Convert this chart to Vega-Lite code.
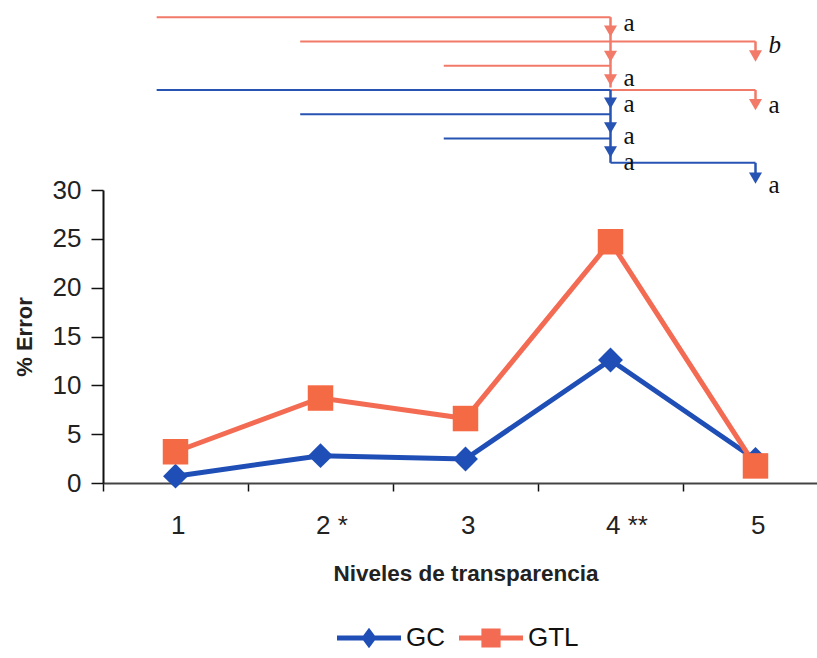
{
  "$schema": "https://vega.github.io/schema/vega-lite/v6.json",
  "background": "white",
  "padding": {"left": 13, "top": 5, "right": 0, "bottom": 0},
  "bounds": "flush",
  "spacing": 0,
  "config": {"view": {"stroke": null}, "font": "Liberation Sans"},
  "datasets": {
    "errores": [
      {"nivel": "1", "serie": "GC", "error": 0.7},
      {"nivel": "2", "serie": "GC", "error": 2.8},
      {"nivel": "3", "serie": "GC", "error": 2.45},
      {"nivel": "4", "serie": "GC", "error": 12.6},
      {"nivel": "5", "serie": "GC", "error": 2.4},
      {"nivel": "1", "serie": "GTL", "error": 3.2},
      {"nivel": "2", "serie": "GTL", "error": 8.7},
      {"nivel": "3", "serie": "GTL", "error": 6.6},
      {"nivel": "4", "serie": "GTL", "error": 24.7},
      {"nivel": "5", "serie": "GTL", "error": 1.75}
    ],
    "lineas": [
      {"serie": "GTL", "desde": 0.87, "hasta": 4, "fila": 1},
      {"serie": "GTL", "desde": 1.86, "hasta": 5, "fila": 2},
      {"serie": "GTL", "desde": 2.85, "hasta": 4, "fila": 3},
      {"serie": "GTL", "desde": 4, "hasta": 5, "fila": 4},
      {"serie": "GC", "desde": 0.87, "hasta": 4, "fila": 4},
      {"serie": "GC", "desde": 1.86, "hasta": 4, "fila": 5},
      {"serie": "GC", "desde": 2.85, "hasta": 4, "fila": 6},
      {"serie": "GC", "desde": 4, "hasta": 5, "fila": 7}
    ],
    "tallos": [
      {"serie": "GTL", "nivel": 4, "fila": 1, "fila2": 3.9},
      {"serie": "GTL", "nivel": 5, "fila": 2, "fila2": 2.6},
      {"serie": "GTL", "nivel": 5, "fila": 4, "fila2": 4.6},
      {"serie": "GC", "nivel": 4, "fila": 4, "fila2": 7},
      {"serie": "GC", "nivel": 5, "fila": 7, "fila2": 7.6}
    ],
    "flechas": [
      {"serie": "GTL", "nivel": 4, "fila": 1.58},
      {"serie": "GTL", "nivel": 4, "fila": 2.62},
      {"serie": "GTL", "nivel": 4, "fila": 3.58},
      {"serie": "GTL", "nivel": 5, "fila": 2.6},
      {"serie": "GTL", "nivel": 5, "fila": 4.6},
      {"serie": "GC", "nivel": 4, "fila": 4.54},
      {"serie": "GC", "nivel": 4, "fila": 5.56},
      {"serie": "GC", "nivel": 4, "fila": 6.55},
      {"serie": "GC", "nivel": 5, "fila": 7.63}
    ],
    "letras": [
      {"nivel": 4, "fila": 1.25, "letra": "a"},
      {"nivel": 4, "fila": 3.5, "letra": "a"},
      {"nivel": 4, "fila": 4.58, "letra": "a"},
      {"nivel": 4, "fila": 5.9, "letra": "a"},
      {"nivel": 4, "fila": 6.97, "letra": "a"},
      {"nivel": 5, "fila": 2.15, "letra": "b"},
      {"nivel": 5, "fila": 4.6, "letra": "a"},
      {"nivel": 5, "fila": 7.91, "letra": "a"}
    ]
  },
  "vconcat": [
    {
      "width": 725,
      "height": 185,
      "encoding": {
        "x": {"type": "quantitative", "scale": {"domain": [0.5, 5.5], "nice": false, "zero": false}, "axis": null},
        "y": {"type": "quantitative", "scale": {"domain": [0.5, 8.12], "reverse": true, "nice": false, "zero": false}, "axis": null}
      },
      "layer": [
        {
          "data": {"name": "lineas"},
          "mark": {"type": "rule", "strokeWidth": 2},
          "encoding": {
            "x": {"field": "desde", "type": "quantitative"},
            "x2": {"field": "hasta"},
            "y": {"field": "fila", "type": "quantitative"},
            "color": {"field": "serie", "type": "nominal", "scale": {"domain": ["GC", "GTL"], "range": ["#2753b3", "#f27a68"]}, "legend": null}
          }
        },
        {
          "data": {"name": "tallos"},
          "mark": {"type": "rule", "strokeWidth": 2.5},
          "encoding": {
            "x": {"field": "nivel", "type": "quantitative"},
            "y": {"field": "fila", "type": "quantitative"},
            "y2": {"field": "fila2"},
            "color": {"field": "serie", "type": "nominal", "legend": null}
          }
        },
        {
          "data": {"name": "flechas"},
          "mark": {"type": "point", "shape": "triangle-down", "filled": true, "size": 170, "opacity": 1},
          "encoding": {
            "x": {"field": "nivel", "type": "quantitative"},
            "y": {"field": "fila", "type": "quantitative"},
            "color": {"field": "serie", "type": "nominal", "legend": null}
          }
        },
        {
          "data": {"name": "letras"},
          "transform": [{"filter": "datum.letra == 'a'"}],
          "mark": {"type": "text", "align": "left", "baseline": "middle", "dx": 13, "font": "Liberation Serif", "fontSize": 25, "color": "#111"},
          "encoding": {
            "x": {"field": "nivel", "type": "quantitative"},
            "y": {"field": "fila", "type": "quantitative"},
            "text": {"field": "letra"}
          }
        },
        {
          "data": {"name": "letras"},
          "transform": [{"filter": "datum.letra == 'b'"}],
          "mark": {"type": "text", "align": "left", "baseline": "middle", "dx": 13, "font": "Liberation Serif", "fontStyle": "italic", "fontSize": 25, "color": "#111"},
          "encoding": {
            "x": {"field": "nivel", "type": "quantitative"},
            "y": {"field": "fila", "type": "quantitative"},
            "text": {"field": "letra"}
          }
        }
      ]
    },
    {
      "width": 725,
      "height": 293,
      "data": {"name": "errores"},
      "encoding": {
        "x": {
          "field": "nivel", "type": "ordinal",
          "scale": {"type": "band", "paddingInner": 0, "paddingOuter": 0},
          "title": "Niveles de transparencia",
          "axis": {
            "tickBand": "extent", "labelAngle": 0, "tickSize": 8, "tickWidth": 1.5, "tickColor": "#111",
            "domainColor": "#444", "domainWidth": 2,
            "labelFont": "Liberation Sans", "labelFontSize": 26, "labelColor": "#222",
            "labelAlign": "left", "labelOffset": -5, "labelPadding": 21, "labelOverlap": false, "labelBound": false, "labelFlush": false,
            "labelExpr": "datum.value == '2' ? '2  *' : datum.value == '4' ? '4  **' : datum.value",
            "titleFont": "Liberation Sans", "titleFontSize": 22.5, "titleFontWeight": "bold", "titleColor": "#222", "titlePadding": 24
          }
        },
        "y": {
          "field": "error", "type": "quantitative",
          "scale": {"domain": [0, 30], "nice": false},
          "title": "% Error",
          "axis": {
            "values": [0, 5, 10, 15, 20, 25, 30], "grid": false, "tickSize": 12, "tickWidth": 1.5, "tickColor": "#111",
            "domainColor": "#111", "domainWidth": 2,
            "labelFont": "Liberation Sans", "labelFontSize": 26, "labelColor": "#222", "labelPadding": 10,
            "titleFont": "Liberation Sans", "titleFontSize": 22, "titleFontWeight": "bold", "titleColor": "#222", "titlePadding": 16
          }
        }
      },
      "layer": [
        {
          "mark": {"type": "line", "strokeWidth": 5},
          "encoding": {
            "color": {"field": "serie", "type": "nominal", "scale": {"domain": ["GC", "GTL"], "range": ["#1f4fb6", "#f36b52"]}, "legend": null}
          }
        },
        {
          "transform": [{"filter": "datum.serie == 'GC'"}],
          "mark": {"type": "point", "shape": "diamond", "filled": true, "size": 620, "opacity": 1},
          "encoding": {"color": {"field": "serie", "type": "nominal", "legend": null}}
        },
        {
          "transform": [{"filter": "datum.serie == 'GTL'"}],
          "mark": {"type": "point", "shape": "square", "filled": true, "size": 650, "opacity": 1, "color": "#f46a45"}
        },
        {
          "transform": [{"filter": "datum.serie == 'ninguna'"}],
          "mark": {"type": "point", "filled": true, "opacity": 1, "color": "#1f4fb6"},
          "encoding": {
            "shape": {"field": "serie", "type": "nominal", "title": null,
              "scale": {"domain": ["GC"], "range": [
                "M-1,-0.08 L-0.18,-0.08 L0,-0.32 L0.18,-0.08 L1,-0.08 L1,0.08 L0.18,0.08 L0,0.32 L-0.18,0.08 L-1,0.08 Z"
              ]},
              "legend": {"orient": "none", "legendX": 234, "legendY": 416, "direction": "horizontal", "symbolSize": 4096, "symbolFillColor": "#1f4fb6", "symbolStrokeWidth": 0, "symbolOpacity": 1, "labelFont": "Liberation Sans", "labelFontSize": 26, "labelColor": "#111", "labelOffset": 5, "title": null}}
          }
        },
        {
          "transform": [{"filter": "datum.serie == 'ninguna'"}],
          "mark": {"type": "point", "filled": true, "opacity": 1, "color": "#f36b52"},
          "encoding": {
            "shape": {"field": "serie", "type": "nominal", "title": null,
              "scale": {"domain": ["GTL"], "range": [
                "M-1,-0.08 L-0.3,-0.08 L-0.3,-0.3 L0.3,-0.3 L0.3,-0.08 L1,-0.08 L1,0.08 L0.3,0.08 L0.3,0.3 L-0.3,0.3 L-0.3,0.08 L-1,0.08 Z"
              ]},
              "legend": {"orient": "none", "legendX": 356, "legendY": 416, "direction": "horizontal", "symbolSize": 4096, "symbolFillColor": "#f36b52", "symbolStrokeWidth": 0, "symbolOpacity": 1, "labelFont": "Liberation Sans", "labelFontSize": 26, "labelColor": "#111", "labelOffset": 5, "title": null}}
          }
        }
      ],
      "resolve": {"scale": {"shape": "independent"}, "legend": {"shape": "independent"}}
    }
  ],
  "resolve": {"scale": {"color": "independent", "x": "independent", "y": "independent"}, "legend": {"color": "independent"}}
}
